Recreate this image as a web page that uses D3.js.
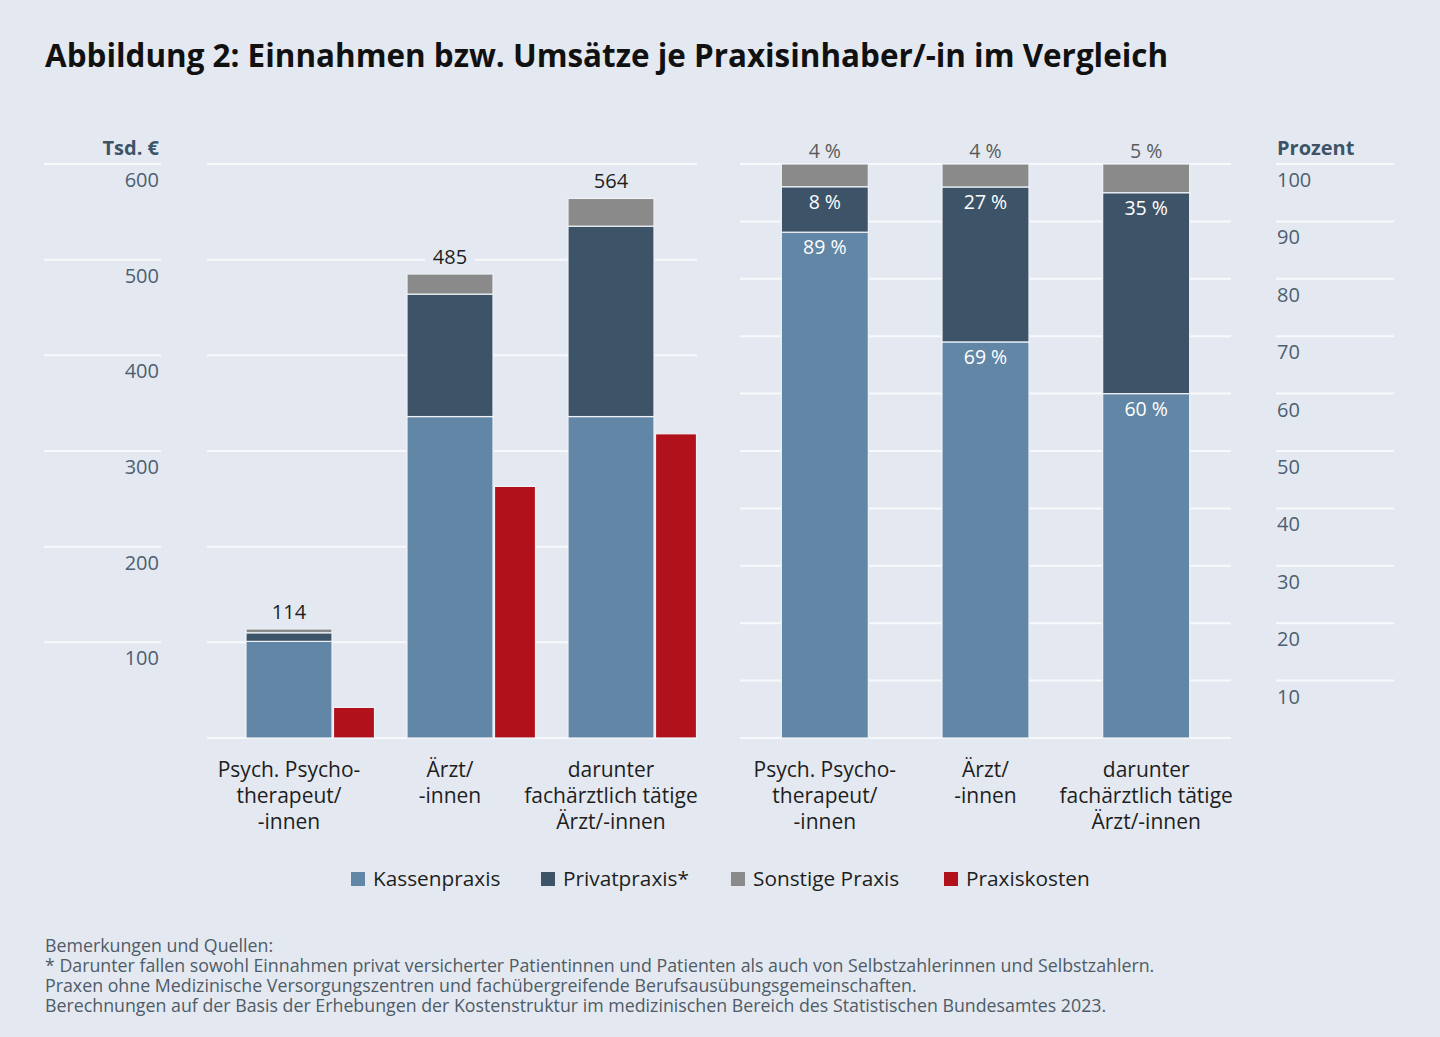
<!DOCTYPE html>
<html>
<head>
<meta charset="utf-8">
<script src="https://cdn.jsdelivr.net/npm/d3@7"></script>
<style>
  body { margin: 0; background: #e4e9f1; }
  svg { display: block; font-family: "Open Sans", sans-serif; }
</style>
</head>
<body>
<svg id="chart" width="1440" height="1037"></svg>
<script>
/* chart data */
var categories = [
  ["Psych. Psycho-", "therapeut/", "-innen"],
  ["Ärzt/", "-innen"],
  ["darunter", "fachärztlich tätige", "Ärzt/-innen"]
];
var kassenTsd   = [101, 336, 336];
var privatTsd   = [9, 128, 199];
var sonstigeTsd = [4, 21, 29];
var totalTsd    = [114, 485, 564];
var kostenTsd   = [32, 263, 318];

var kassenPct   = [89, 69, 60];
var privatPct   = [8, 27, 35];
var sonstigePct = [4, 4, 5];

var leftTicks  = [100, 200, 300, 400, 500, 600];
var rightTicks = [10, 20, 30, 40, 50, 60, 70, 80, 90, 100];

var seriesNames = ["Kassenpraxis", "Privatpraxis*", "Sonstige Praxis", "Praxiskosten"];
var notes = [
  "Bemerkungen und Quellen:",
  "* Darunter fallen sowohl Einnahmen privat versicherter Patientinnen und Patienten als auch von Selbstzahlerinnen und Selbstzahlern.",
  "Praxen ohne Medizinische Versorgungszentren und fachübergreifende Berufsausübungsgemeinschaften.",
  "Berechnungen auf der Basis der Erhebungen der Kostenstruktur im medizinischen Bereich des Statistischen Bundesamtes 2023."
];

var colour = {
  "Kassenpraxis": "#6286a5",
  "Privatpraxis*": "#3d5468",
  "Sonstige Praxis": "#8a8a8a",
  "Praxiskosten": "#b0111a"
};
var bg = "#e4e9f1",
    gridCol = "#f7f9fc",
    tickCol = "#4d5f71",
    labelCol = "#1e1e1e";

var svg = d3.select("#chart");
svg.append("rect").attr("width", 1440).attr("height", 1037).attr("fill", bg);

/* title */
svg.append("text")
  .attr("x", 45).attr("y", 67)
  .attr("font-size", 31.4).attr("font-weight", 700).attr("fill", "#111")
  .text("Abbildung 2: Einnahmen bzw. Umsätze je Praxisinhaber/-in im Vergleich");

var keys = ["k", "p", "s"];
var keyName = { k: "Kassenpraxis", p: "Privatpraxis*", s: "Sonstige Praxis" };

/* ---------- left chart: Tsd. € ---------- */
var baseY = 738;
var yL = d3.scaleLinear().domain([0, 600]).range([baseY, 164]);
var xL = d3.scaleBand().domain(d3.range(categories.length)).range([208.5, 691.5]).padding(0);

var leftData = categories.map(function(c, i) {
  return { i: i, k: kassenTsd[i], p: privatTsd[i], s: sonstigeTsd[i], total: totalTsd[i], cost: kostenTsd[i] };
});
var stackL = d3.stack().keys(keys)(leftData);

var gL = svg.append("g").attr("id", "left");

// gridlines: axis area and plot area
gL.selectAll(".gridA").data(leftTicks).enter().append("line")
  .attr("x1", 44).attr("x2", 161)
  .attr("y1", function(d) { return yL(d); }).attr("y2", function(d) { return yL(d); })
  .attr("stroke", gridCol).attr("stroke-width", 2);
gL.selectAll(".gridP").data([0].concat(leftTicks)).enter().append("line")
  .attr("x1", 207).attr("x2", 697)
  .attr("y1", function(d) { return yL(d); }).attr("y2", function(d) { return yL(d); })
  .attr("stroke", gridCol).attr("stroke-width", 2);

gL.selectAll(".tick").data(leftTicks).enter().append("text")
  .attr("x", 159).attr("y", function(d) { return yL(d) + 23; })
  .attr("text-anchor", "end").attr("font-size", 20).attr("fill", tickCol)
  .text(function(d) { return d; });

gL.append("text").attr("x", 159).attr("y", 155)
  .attr("text-anchor", "end").attr("font-size", 20).attr("font-weight", 700).attr("fill", "#3d5468")
  .text("Tsd. €");

var blueW = 86, redW = 41;
function cx(scale, i) { return scale(i) + scale.bandwidth() / 2; }

stackL.forEach(function(layer) {
  gL.selectAll(".seg-" + layer.key).data(layer).enter().append("rect")
    .attr("x", function(d, i) { return cx(xL, i) - blueW / 2; })
    .attr("width", blueW)
    .attr("y", function(d) { return yL(d[1]); })
    .attr("height", function(d) { return yL(d[0]) - yL(d[1]); })
    .attr("fill", colour[keyName[layer.key]])
    .attr("stroke", "#eef2f7").attr("stroke-width", 1.2);
});

gL.selectAll(".cost").data(leftData).enter().append("rect")
  .attr("x", function(d) { return cx(xL, d.i) + blueW / 2 + 1.5; })
  .attr("width", redW)
  .attr("y", function(d) { return yL(d.cost); })
  .attr("height", function(d) { return baseY - yL(d.cost); })
  .attr("fill", colour["Praxiskosten"])
  .attr("stroke", "#eef2f7").attr("stroke-width", 1.2);

// totals with background box so gridlines break behind them
var totals = gL.selectAll(".total").data(leftData).enter().append("g");
totals.append("rect")
  .attr("x", function(d) { return cx(xL, d.i) - 25; })
  .attr("y", function(d) { return yL(d.total) - 32; })
  .attr("width", 50).attr("height", 26).attr("fill", bg);
totals.append("text")
  .attr("x", function(d) { return cx(xL, d.i); })
  .attr("y", function(d) { return yL(d.total) - 10; })
  .attr("text-anchor", "middle").attr("font-size", 20).attr("fill", labelCol)
  .text(function(d) { return d.total; });

/* ---------- right chart: Prozent ---------- */
var yR = d3.scaleLinear().domain([0, 100]).range([baseY, 164]);
var xR = d3.scaleBand().domain(d3.range(categories.length)).range([744.5, 1226.5]).padding(0);

var rightData = categories.map(function(c, i) {
  return { i: i, k: kassenPct[i], p: privatPct[i], s: sonstigePct[i] };
});
var stackR = d3.stack().keys(keys).offset(d3.stackOffsetExpand)(rightData);

var gR = svg.append("g").attr("id", "right");

gR.selectAll(".gridP").data([0].concat(rightTicks)).enter().append("line")
  .attr("x1", 740).attr("x2", 1231)
  .attr("y1", function(d) { return yR(d); }).attr("y2", function(d) { return yR(d); })
  .attr("stroke", gridCol).attr("stroke-width", 2);
gR.selectAll(".gridA").data(rightTicks).enter().append("line")
  .attr("x1", 1276).attr("x2", 1394)
  .attr("y1", function(d) { return yR(d); }).attr("y2", function(d) { return yR(d); })
  .attr("stroke", gridCol).attr("stroke-width", 2);

gR.selectAll(".tick").data(rightTicks).enter().append("text")
  .attr("x", 1277).attr("y", function(d) { return yR(d) + 23; })
  .attr("font-size", 20).attr("fill", tickCol)
  .text(function(d) { return d; });

gR.append("text").attr("x", 1277).attr("y", 155)
  .attr("font-size", 20).attr("font-weight", 700).attr("fill", "#3d5468")
  .text("Prozent");

var barW = 87;
stackR.forEach(function(layer) {
  gR.selectAll(".seg-" + layer.key).data(layer).enter().append("rect")
    .attr("x", function(d, i) { return cx(xR, i) - barW / 2; })
    .attr("width", barW)
    .attr("y", function(d) { return yR(d[1] * 100); })
    .attr("height", function(d) { return yR(d[0] * 100) - yR(d[1] * 100); })
    .attr("fill", colour[keyName[layer.key]])
    .attr("stroke", "#eef2f7").attr("stroke-width", 1.2);
});

// labels inside the blue and dark segments
["k", "p"].forEach(function(key) {
  var layer = stackR[keys.indexOf(key)];
  gR.selectAll(".lab-" + key).data(layer).enter().append("text")
    .attr("x", function(d, i) { return cx(xR, i); })
    .attr("y", function(d) { return yR(d[1] * 100) + 22; })
    .attr("text-anchor", "middle").attr("font-size", 19.5).attr("fill", "#fff")
    .text(function(d) { return d.data[key] + " %"; });
});
// labels above for Sonstige
gR.selectAll(".lab-s").data(rightData).enter().append("text")
  .attr("x", function(d) { return cx(xR, d.i); })
  .attr("y", 158)
  .attr("text-anchor", "middle").attr("font-size", 19.5).attr("fill", "#5a5a5a")
  .text(function(d) { return d.s + " %"; });

/* ---------- category labels ---------- */
function catLabels(scale) {
  svg.append("g").selectAll("text").data(categories).enter().append("text")
    .attr("text-anchor", "middle").attr("font-size", 21).attr("fill", labelCol)
    .each(function(lines, i) {
      var t = d3.select(this);
      lines.forEach(function(l, j) {
        t.append("tspan").attr("x", cx(scale, i)).attr("y", 777 + j * 26).text(l);
      });
    });
}
catLabels(xL);
catLabels(xR);

/* ---------- legend ---------- */
var legendX = [351, 541, 731, 944];
var lg = svg.append("g").selectAll("g").data(seriesNames).enter().append("g")
  .attr("transform", function(d, i) { return "translate(" + legendX[i] + ",872)"; });
lg.append("rect").attr("width", 14).attr("height", 14).attr("fill", function(d) { return colour[d]; });
lg.append("text").attr("x", 22).attr("y", 14).attr("font-size", 20.8).attr("fill", labelCol)
  .text(function(d) { return d; });

/* ---------- notes ---------- */
svg.append("g").selectAll("text").data(notes).enter().append("text")
  .attr("x", 45).attr("y", function(d, i) { return 952 + i * 20; })
  .attr("font-size", 17.8).attr("fill", "#4f5b66")
  .text(function(d) { return d; });
</script>
</body>
</html>
